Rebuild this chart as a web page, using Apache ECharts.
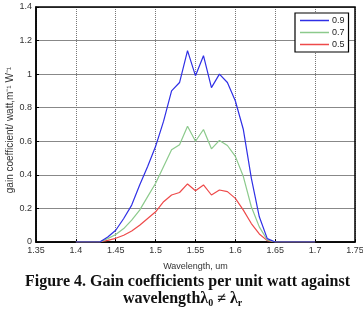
<!DOCTYPE html>
<html>
<head>
<meta charset="utf-8">
<script src="https://cdn.jsdelivr.net/npm/echarts@6/dist/echarts.min.js"></script>
<style>
  html, body { margin: 0; padding: 0; background: #fff; }
  #chart { width: 363px; height: 310px; }
</style>
</head>
<body>
<div id="chart"></div>
<script>
  // wavelength (um)
  var wavelengths = [1.40, 1.41, 1.42, 1.43, 1.44, 1.45, 1.46, 1.47, 1.48, 1.49,
    1.50, 1.51, 1.52, 1.53, 1.54, 1.55, 1.56, 1.57, 1.58, 1.59,
    1.60, 1.61, 1.62, 1.63, 1.64, 1.65, 1.66, 1.67, 1.68, 1.69, 1.70];
  var gain09 = [0, 0, 0, 0, 0.03, 0.07, 0.14, 0.22, 0.34, 0.45,
    0.57, 0.72, 0.90, 0.95, 1.14, 0.99, 1.11, 0.92, 1.00, 0.95,
    0.84, 0.67, 0.38, 0.15, 0.02, 0, 0, 0, 0, 0, 0];
  var gain07 = [0, 0, 0, 0, 0.02, 0.045, 0.08, 0.13, 0.19, 0.27,
    0.35, 0.45, 0.55, 0.58, 0.69, 0.60, 0.67, 0.555, 0.605, 0.575,
    0.51, 0.39, 0.21, 0.09, 0.012, 0, 0, 0, 0, 0, 0];
  var gain05 = [0, 0, 0, 0, 0.01, 0.022, 0.04, 0.065, 0.10, 0.14,
    0.18, 0.24, 0.28, 0.295, 0.346, 0.305, 0.34, 0.28, 0.31, 0.30,
    0.26, 0.19, 0.11, 0.048, 0.008, 0, 0, 0, 0, 0, 0];
  var seriesNames = ['0.9', '0.7', '0.5'];
  var seriesColors = ['#2f2fe6', '#8cca8c', '#ee4a4a'];

  function pairs(ys) {
    return wavelengths.map(function (x, i) { return [x, ys[i]]; });
  }

  var chart = echarts.init(document.getElementById('chart'));
  var tickFont = { fontFamily: 'Liberation Sans, Arial, sans-serif', fontSize: 9, color: '#333' };

  var option = {
    animation: false,
    grid: { left: 36, right: 8, top: 7, bottom: 68, containLabel: false, outerBoundsMode: 'none' },
    legend: {
      data: seriesNames,
      orient: 'vertical',
      left: 295,
      top: 13,
      icon: 'rect',
      itemWidth: 29,
      itemHeight: 1.5,
      itemGap: 3,
      padding: [3, 4, 3, 5],
      backgroundColor: '#fff',
      borderColor: '#000',
      borderWidth: 1.2,
      textStyle: { fontFamily: 'Liberation Sans, Arial, sans-serif', fontSize: 9, color: '#222', padding: [0, 0, 0, -2] }
    },
    xAxis: {
      type: 'value',
      min: 1.35,
      max: 1.75,
      interval: 0.05,
      name: 'Wavelength, um',
      nameLocation: 'middle',
      nameGap: 20,
      nameTextStyle: tickFont,
      axisLine: { show: true, lineStyle: { color: '#000', width: 1.5 } },
      axisTick: { show: true, inside: true, length: 3, lineStyle: { color: '#000' } },
      axisLabel: Object.assign({ margin: 4, showMinLabel: true, showMaxLabel: true }, tickFont),
      splitLine: { show: true, lineStyle: { color: '#777', type: [1, 1], width: 1 } }
    },
    yAxis: {
      type: 'value',
      min: 0,
      max: 1.4,
      interval: 0.2,
      axisLine: { show: true, lineStyle: { color: '#000', width: 1.5 } },
      axisTick: { show: true, inside: true, length: 3, lineStyle: { color: '#000' } },
      axisLabel: Object.assign({ margin: 4, align: 'right' }, tickFont),
      splitLine: { show: true, lineStyle: { color: '#888', width: 1 } }
    },
    series: seriesNames.map(function (name, i) {
      return {
        name: name,
        type: 'line',
        data: pairs([gain09, gain07, gain05][i]),
        symbol: 'none',
        lineStyle: { color: seriesColors[i], width: 1.2 },
        itemStyle: { color: seriesColors[i] },
        z: 10 - i
      };
    }),
    graphic: [
      {
        type: 'rect',
        shape: { x: 36, y: 7, width: 319, height: 235 },
        style: { fill: 'none', stroke: '#000', lineWidth: 1.5 },
        silent: true,
        z: 5
      },
      {
        // y axis title
        type: 'text',
        x: 10,
        y: 130,
        rotation: Math.PI / 2,
        style: {
          text: 'gain coefficient/ watt,m\u207B\u00B9 W\u207B\u00B9',
          font: '10px "Liberation Sans", Arial, sans-serif',
          fill: '#333',
          align: 'center',
          verticalAlign: 'middle'
        }
      },
      {
        type: 'text',
        left: 25,
        top: 274,
        style: {
          text: 'Figure 4. Gain coefficients per unit watt against',
          font: 'bold 16px "Liberation Serif", "Times New Roman", serif',
          fill: '#111'
        }
      },
      {
        type: 'text',
        left: 123,
        top: 291,
        style: {
          text: '{t|wavelength\u03BB}{s|0}{t| \u2260 \u03BB}{s|r}',
          rich: {
            t: { font: 'bold 16px "Liberation Serif", "Times New Roman", serif', fill: '#111' },
            s: { font: 'bold 10px "Liberation Serif", "Times New Roman", serif', fill: '#111', padding: [9, 0, 0, 0] }
          }
        }
      }
    ]
  };
  chart.setOption(option);
</script>
</body>
</html>
